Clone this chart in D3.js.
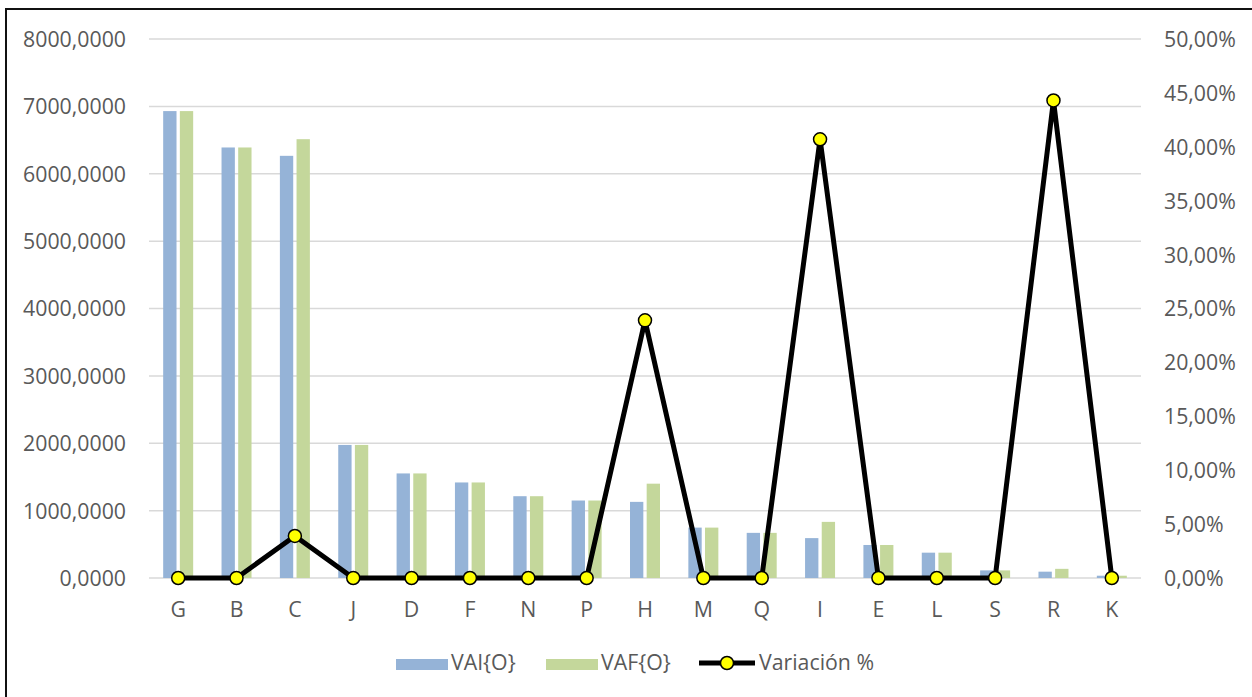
<!DOCTYPE html>
<html>
<head>
<meta charset="utf-8">
<script src="https://cdn.jsdelivr.net/npm/d3@7"></script>
<style>
  html, body { margin: 0; padding: 0; background: #ffffff; }
  svg { display: block; }
  text { font-family: "Open Sans", "Noto Sans", sans-serif; fill: #595959; }
</style>
</head>
<body>
<svg id="chart" width="1252" height="697"></svg>
<script>
// Categories and series
const categories = ["G", "B", "C", "J", "D", "F", "N", "P", "H", "M", "Q", "I", "E", "L", "S", "R", "K"];
const vai = [6930, 6390, 6266, 1975, 1552, 1418, 1214, 1150, 1130, 748, 670, 592, 490, 376, 113, 94, 34];
const vaf = [6930, 6390, 6513, 1975, 1552, 1418, 1214, 1150, 1400, 748, 670, 833, 490, 376, 113, 136, 34];
const variacion = [0, 0, 0.039, 0, 0, 0, 0, 0, 0.239, 0, 0, 0.407, 0, 0, 0, 0.443, 0];

// Axis ticks
const leftTicks = [0, 1000, 2000, 3000, 4000, 5000, 6000, 7000, 8000];
const rightTicks = [0, 0.05, 0.10, 0.15, 0.20, 0.25, 0.30, 0.35, 0.40, 0.45, 0.50];

const seriesKeys = ["VAI{O}", "VAF{O}"];
const seriesColors = { "VAI{O}": "#95B3D7", "VAF{O}": "#C4D79B" };

const FONT_SIZE = 21.3;
const svg = d3.select("#chart");
const plot = { left: 149, right: 1141, top: 39, bottom: 578 };

const locale = d3.formatLocale({ decimal: ",", thousands: ".", grouping: [3], currency: ["", "€"], percent: "%" });
const fmtLeft = locale.format(".4f");
const fmtRight = locale.format(".2%");

const x = d3.scaleBand().domain(categories).range([plot.left, plot.right])
  .paddingInner(0.486).paddingOuter(0.243);
const x1 = d3.scaleBand().domain(seriesKeys).range([0, x.bandwidth()]).paddingInner(0.2);
const y = d3.scaleLinear().domain([0, 8000]).range([plot.bottom, plot.top]);
const y2 = d3.scaleLinear().domain([0, 0.5]).range([plot.bottom, plot.top]);

// Outer frame
svg.append("rect")
  .attr("x", 6).attr("y", 9).attr("width", 1270).attr("height", 720)
  .attr("fill", "none").attr("stroke", "#111").attr("stroke-width", 2);

// Gridlines
svg.append("g").selectAll("line").data(leftTicks).join("line")
  .attr("x1", plot.left).attr("x2", plot.right)
  .attr("y1", d => y(d)).attr("y2", d => y(d))
  .attr("stroke", "#D9D9D9").attr("stroke-width", 1.5);

function styleAxisText(g) {
  g.select(".domain").remove();
  g.selectAll("text").attr("font-size", FONT_SIZE).attr("fill", "#595959")
    .attr("font-family", "'Open Sans', sans-serif").attr("dy", "0.35em");
}

// Left axis labels
const yAxisL = d3.axisLeft(y).tickValues(leftTicks).tickFormat(fmtLeft).tickSize(0).tickPadding(0);
svg.append("g").attr("transform", "translate(126,0)").call(yAxisL).call(styleAxisText);

// Right axis labels
const yAxisR = d3.axisRight(y2).tickValues(rightTicks).tickFormat(fmtRight).tickSize(0).tickPadding(0);
svg.append("g").attr("transform", "translate(1164,0)").call(yAxisR).call(styleAxisText);

// Category axis labels
const xAxis = d3.axisBottom(x).tickSize(0).tickPadding(0);
svg.append("g").attr("transform", "translate(0,610)").call(xAxis).call(styleAxisText);

// Bars
const rows = categories.map((c, i) => ({ cat: c, values: [
  { key: "VAI{O}", value: vai[i] }, { key: "VAF{O}", value: vaf[i] }] }));

svg.append("g").selectAll("g").data(rows).join("g")
  .attr("transform", d => `translate(${x(d.cat)},0)`)
  .selectAll("rect").data(d => d.values).join("rect")
    .attr("x", d => x1(d.key))
    .attr("width", x1.bandwidth())
    .attr("y", d => y(d.value))
    .attr("height", d => y(0) - y(d.value))
    .attr("fill", d => seriesColors[d.key]);

// Variation line
const pts = categories.map((c, i) => ({ cat: c, v: variacion[i] }));
const line = d3.line().x(d => x(d.cat) + x.bandwidth() / 2).y(d => y2(d.v));
svg.append("path").datum(pts)
  .attr("d", line).attr("fill", "none")
  .attr("stroke", "#000").attr("stroke-width", 5).attr("stroke-linejoin", "round");

svg.append("g").selectAll("circle").data(pts).join("circle")
  .attr("cx", d => x(d.cat) + x.bandwidth() / 2)
  .attr("cy", d => y2(d.v))
  .attr("r", 6.5)
  .attr("fill", "#FFFF00").attr("stroke", "#000").attr("stroke-width", 1.5);

// Legend
const lg = svg.append("g");
const legendY = 663;
lg.append("rect").attr("x", 396).attr("y", legendY - 4).attr("width", 52).attr("height", 11)
  .attr("fill", seriesColors["VAI{O}"]);
lg.append("text").attr("x", 451).attr("y", legendY).attr("dy", "0.35em")
  .attr("font-size", FONT_SIZE).text("VAI{O}");
lg.append("rect").attr("x", 546).attr("y", legendY - 4).attr("width", 52).attr("height", 11)
  .attr("fill", seriesColors["VAF{O}"]);
lg.append("text").attr("x", 601).attr("y", legendY).attr("dy", "0.35em")
  .attr("font-size", FONT_SIZE).text("VAF{O}");
lg.append("line").attr("x1", 699).attr("x2", 755).attr("y1", legendY).attr("y2", legendY)
  .attr("stroke", "#000").attr("stroke-width", 5);
lg.append("circle").attr("cx", 727).attr("cy", legendY).attr("r", 6.5)
  .attr("fill", "#FFFF00").attr("stroke", "#000").attr("stroke-width", 1.5);
lg.append("text").attr("x", 759).attr("y", legendY).attr("dy", "0.35em")
  .attr("font-size", FONT_SIZE).text("Variación %");
</script>
</body>
</html>
